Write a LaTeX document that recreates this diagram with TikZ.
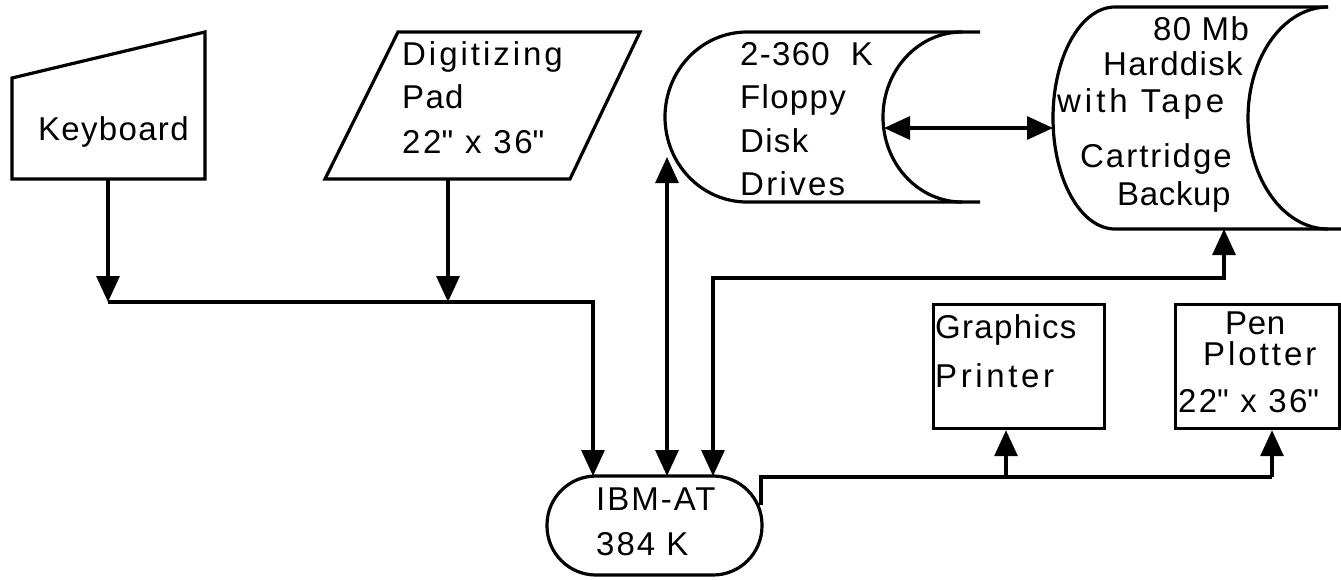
\documentclass[tikz,border=0pt]{standalone}
\usepackage{fontspec}
\setmainfont{Liberation Sans}[LetterSpace=4]
\usetikzlibrary{arrows.meta}
\newcommand{\qq}{\XeTeXglyph\XeTeXglyphindex "quotedbl" \relax}
\tikzset{
  ln/.style={line width=3.2pt, line join=miter},
  arr/.style={ln, -{Triangle[length=26pt,width=23pt]}},
  barr/.style={ln, {Triangle[length=26pt,width=23pt]}-{Triangle[length=26pt,width=23pt]}},
  lbl/.style={anchor=base west, inner sep=0pt, font=\fontsize{33}{40}\selectfont},
  wlbl/.style={lbl, font=\fontsize{33}{40}\selectfont\addfontfeatures{LetterSpace=#1}},
  boxnode/.style={draw, ln, inner sep=0pt, anchor=north west},
}
\begin{document}
\begin{tikzpicture}[x=1pt,y=-1pt]
\useasboundingbox (0,0) rectangle (1341,579);
% Keyboard
\draw[ln] (12,78) -- (205,32) -- (205,179) -- (12,179) -- cycle;
\node[lbl] (kbt) at (38,140) {Keyboard};
\coordinate (kbS) at (108,179);
% Digitizing pad
\draw[ln] (325,179) -- (570,179) -- (640,32) -- (398,32) -- cycle;
\node[wlbl=9] (pad1) at (402,65) {Digitizing};
\node[lbl] (pad2) at (402,108) {Pad};
\node[wlbl=8] (pad3) at (402,153) {22\qq\ x 36\qq};
\coordinate (padS) at (448,179);
% Floppy
\draw[ln] (980,32) -- (747,32) arc[start angle=90,end angle=270,x radius=82pt,y radius=85pt] -- (980,202);
\draw[ln] (962,32) arc[start angle=90,end angle=270,x radius=79pt,y radius=85pt];
\node[lbl] (fl1) at (740,65) {2-360\ \ K};
\node[lbl] (fl2) at (740,108) {Floppy};
\node[lbl] (fl3) at (740,152) {Disk};
\node[wlbl=7] (fl4) at (740,195) {Drives};
\coordinate (flL) at (667,157);
\coordinate (flR) at (884,128);
% Harddisk
\draw[ln] (1328,7) -- (1115,7) arc[start angle=90,end angle=270,x radius=62pt,y radius=111pt] -- (1341,229);
\draw[ln] (1328,7) arc[start angle=90,end angle=270,x radius=80pt,y radius=111pt];
\node[lbl] (hd1) at (1153,40) {80 Mb};
\node[lbl] (hd2) at (1103,75) {Harddisk};
\node[wlbl=12] (hd3) at (1057,112) {with Tape};
\node[wlbl=6] (hd4) at (1080,167) {Cartridge};
\node[wlbl=2] (hd5) at (1117,205) {Backup};
\coordinate (hdL) at (1053,128);
\coordinate (hdS) at (1224,229);
% IBM-AT
\node[draw, ln, rounded corners=49pt, minimum width=215pt, minimum height=99pt, inner sep=0pt] (ibm) at (654.5,525.5) {};
\node[wlbl=6] (ibm1) at (596,510) {IBM-AT};
\node[wlbl=6] (ibm2) at (596,555) {384 K};
\coordinate (ibmA) at (593,476);
\coordinate (ibmB) at (667,476);
\coordinate (ibmC) at (713,476);
\coordinate (ibmR) at (761,505);
% Printer and plotter
\node[boxnode, minimum width=171pt, minimum height=124pt] (prn) at (932,303) {};
\node[lbl] (prn1) at (935,338) {Graphics};
\node[wlbl=11] (prn2) at (935,387) {Printer};
\node[boxnode, minimum width=164pt, minimum height=124pt] (plt) at (1174,303) {};
\node[wlbl=2] (plt1) at (1225,334) {Pen};
\node[wlbl=9] (plt2) at (1203,365) {Plotter};
\node[wlbl=7] (plt3) at (1178,412) {22\qq\ x 36\qq};
% Connectors
\coordinate (j1) at (108,302);
\coordinate (j2) at (448,302);
\draw[arr] (kbS) -- (j1);
\draw[arr] (padS) -- (j2);
\draw[arr] (j1) -- (ibmA |- j1) -- (ibmA);
\draw[barr] (ibmB) -- (flL);
\draw[barr] (ibmC) -- (ibmC |- 0,278) -- (hdS |- 0,278) -- (hdS);
\draw[barr] (flR) -- (hdL);
\draw[ln] (ibmR) -- (761,477) -- (1272,477);
\draw[arr] (1272,477) -- (plt.south -| 1272,0);
\draw[arr] (1006,477) -- (prn.south -| 1006,0);
\end{tikzpicture}
\end{document}
